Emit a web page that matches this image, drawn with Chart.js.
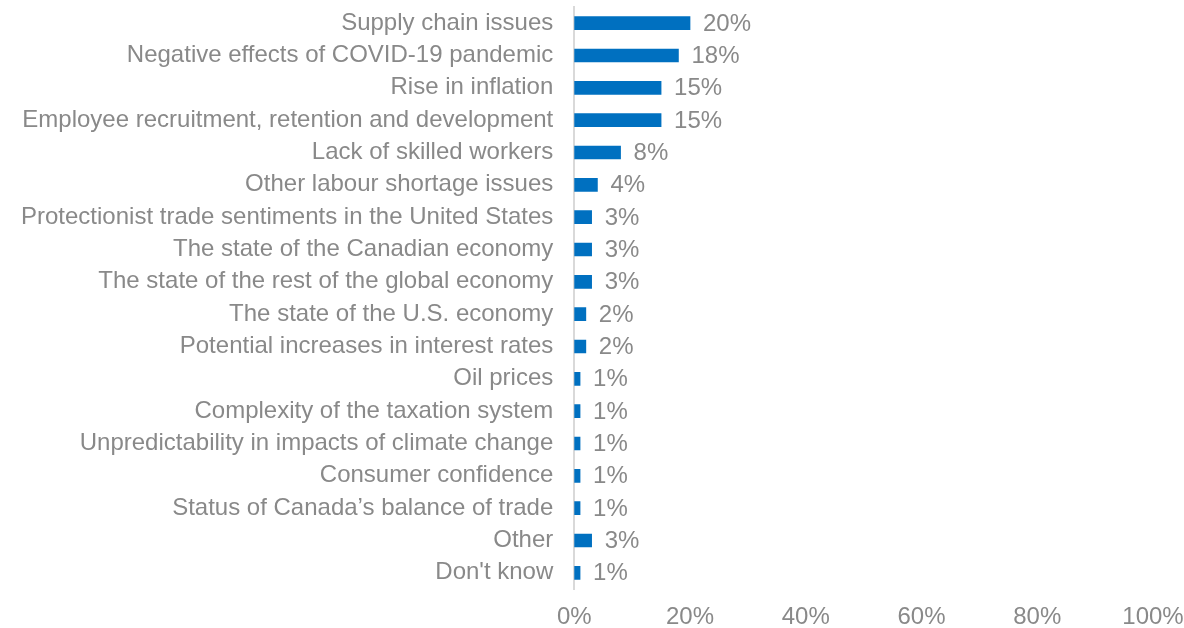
<!DOCTYPE html>
<html>
<head>
<meta charset="utf-8">
<script src="https://cdn.jsdelivr.net/npm/chart.js@4/dist/chart.umd.min.js"></script>
<style>
  html, body { margin: 0; padding: 0; background: #ffffff; }
  #wrap { width: 1184px; height: 628px; position: relative; }
</style>
</head>
<body>
<div id="wrap"><canvas id="chart"></canvas></div>
<script>
// Survey responses: top business concerns
const categories = [
  "Supply chain issues",
  "Negative effects of COVID-19 pandemic",
  "Rise in inflation",
  "Employee recruitment, retention and development",
  "Lack of skilled workers",
  "Other labour shortage issues",
  "Protectionist trade sentiments in the United States",
  "The state of the Canadian economy",
  "The state of the rest of the global economy",
  "The state of the U.S. economy",
  "Potential increases in interest rates",
  "Oil prices",
  "Complexity of the taxation system",
  "Unpredictability in impacts of climate change",
  "Consumer confidence",
  "Status of Canada\u2019s balance of trade",
  "Other",
  "Don't know"
];
const shares = [20, 18, 15, 15, 8, 4, 3, 3, 3, 2, 2, 1, 1, 1, 1, 1, 3, 1];
const axisTicks = [0, 20, 40, 60, 80, 100];

const textGray = "#898989";
const barBlue = "#0070C0";
const fontFamily = "'Liberation Sans', Arial, sans-serif";

// Percentage labels written just past the end of each bar
const valueLabels = {
  id: "valueLabels",
  afterDatasetsDraw(chart) {
    const ctx = chart.ctx;
    const meta = chart.getDatasetMeta(0);
    ctx.save();
    ctx.font = "24px " + fontFamily;
    ctx.fillStyle = textGray;
    ctx.textAlign = "left";
    ctx.textBaseline = "middle";
    meta.data.forEach((bar, i) => {
      ctx.fillText(shares[i] + "%", bar.x + 13, bar.y + 1);
    });
    ctx.restore();
  }
};

Chart.defaults.font.family = fontFamily;
Chart.defaults.color = textGray;

new Chart(document.getElementById("chart"), {
  type: "bar",
  data: {
    labels: categories,
    datasets: [{
      data: shares,
      backgroundColor: barBlue,
      borderWidth: 0,
      barThickness: 13
    }]
  },
  options: {
    indexAxis: "y",
    responsive: true,
    maintainAspectRatio: false,
    animation: false,
    layout: { padding: { top: 7, right: 0, bottom: 0, left: 0 } },
    plugins: {
      legend: { display: false },
      tooltip: { enabled: false }
    },
    scales: {
      x: {
        min: axisTicks[0],
        max: axisTicks[axisTicks.length - 1],
        afterBuildTicks(scale) {
          scale.ticks = axisTicks.map(v => ({ value: v }));
        },
        afterFit(scale) {
          scale.paddingLeft = 0;
          scale.paddingRight = 31;
          scale.height = 39;
        },
        grid: { display: false, drawTicks: false },
        border: { display: false },
        ticks: {
          padding: 14,
          font: { size: 24 },
          color: textGray,
          maxRotation: 0,
          callback: v => v + "%"
        }
      },
      y: {
        afterFit(scale) {
          scale.paddingTop = 0;
          scale.paddingBottom = 0;
        },
        grid: { display: false, drawTicks: false },
        border: { display: true, color: "#d9d9d9", width: 2 },
        ticks: {
          padding: 21,
          font: { size: 24 },
          color: textGray,
          autoSkip: false
        }
      }
    }
  },
  plugins: [valueLabels]
});
</script>
</body>
</html>
